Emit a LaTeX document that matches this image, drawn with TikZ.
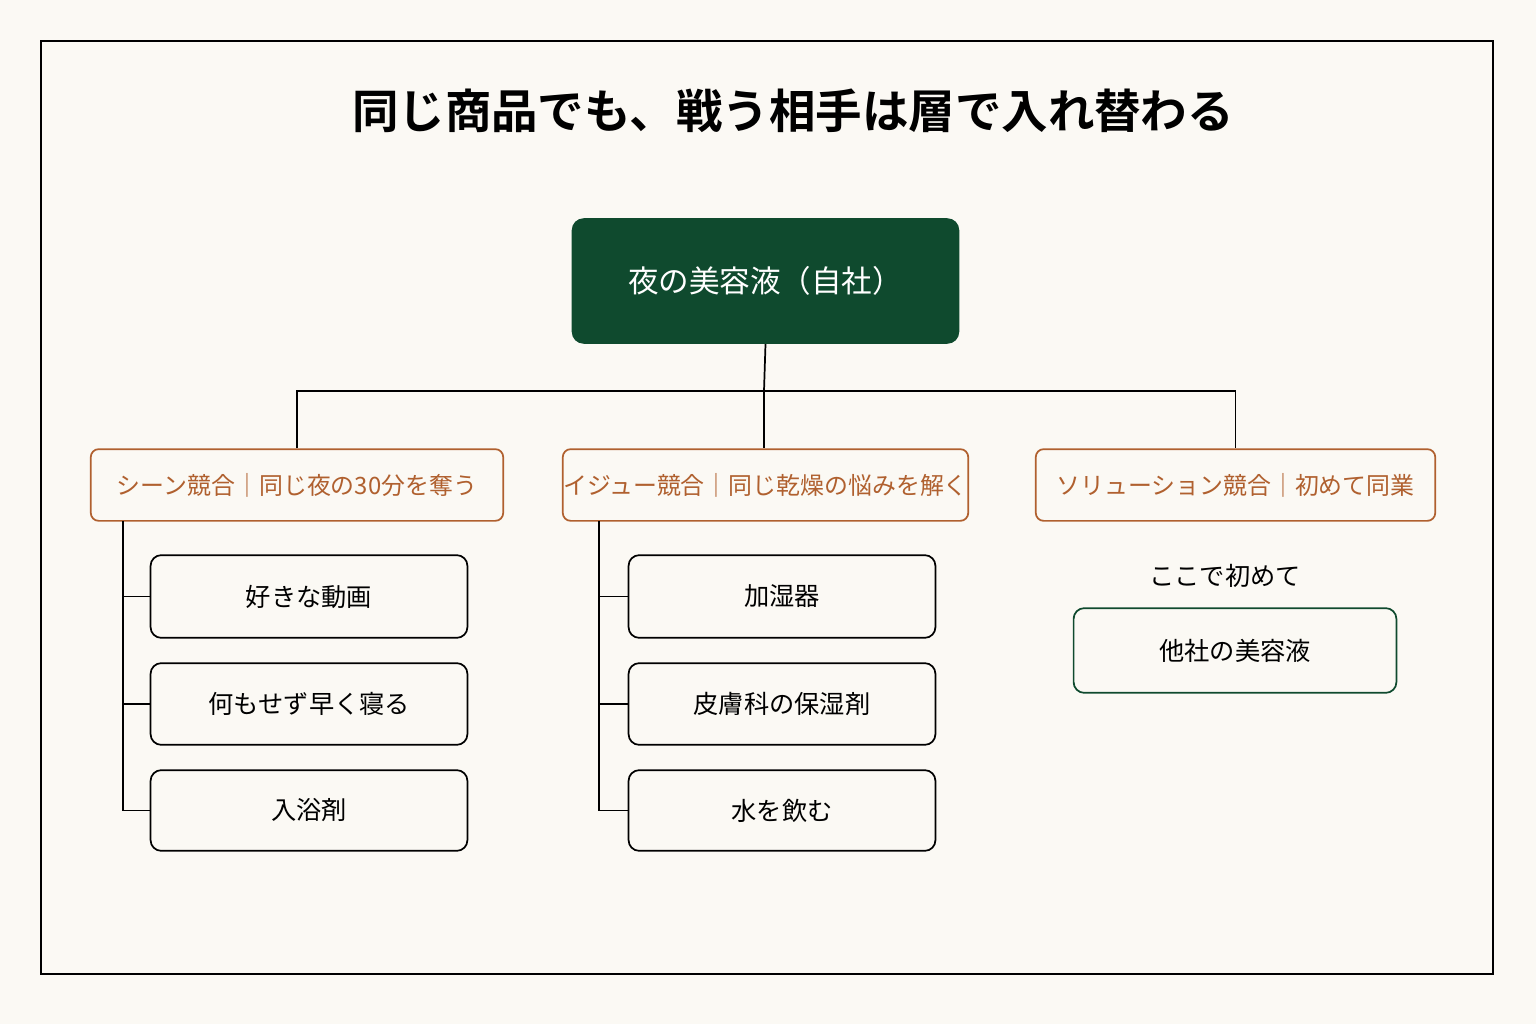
\documentclass[tikz,border=0pt]{standalone}
\usepackage{fontspec}
\setmainfont{Noto Sans CJK JP}
\newfontfamily\titlefont{Noto Sans CJK JP}[UprightFont=* Bold]
\definecolor{bg}{HTML}{FBF9F4}
\definecolor{dgreen}{HTML}{0F4A2E}
\definecolor{rust}{HTML}{B0602F}
\begin{document}
\begin{tikzpicture}[x=0.0264583cm,y=-0.0264583cm,
  cat/.style={draw=rust,line width=1.3pt,rounded corners=6pt,fill=bg,text=rust,font=\fontsize{18}{20}\selectfont,minimum height=72*0.75pt,inner sep=0pt},
  item/.style={draw=black,line width=1.3pt,rounded corners=8pt,fill=bg,font=\fontsize{19}{22}\selectfont,inner sep=0pt},
  conn/.style={line width=1.3pt}]
\fill[bg] (0,0) rectangle (1536,1024);
\useasboundingbox (0,0) rectangle (1536,1024);
\draw[line width=1.3pt] (41,41) rectangle (1493,974);
\node[font=\titlefont\fontsize{35}{40}\selectfont] (title) at (793,111) {同じ商品でも、戦う相手は層で入れ替わる};
\node[fill=dgreen,rounded corners=9pt,minimum width=389*0.75pt,minimum height=126*0.75pt,text=white,font=\fontsize{23}{26}\selectfont,inner sep=0pt] (top) at (765.5,281) {夜の美容液（自社）};
\node[cat,minimum width=414*0.75pt] (c1) at (297,485) {シーン競合｜同じ夜の30分を奪う};
\node[cat,minimum width=407*0.75pt] (c2) at (765.5,485) {イジュー競合｜同じ乾燥の悩みを解く};
\node[cat,minimum width=401*0.75pt] (c3) at (1235.5,485) {ソリューション競合｜初めて同業};
\coordinate (hb) at (764,391);
\draw[conn] (top.south) -- (hb);
\draw[conn] (c1.north) -- (c1.north |- hb) -- (c3.north |- hb) -- (c3.north);
\draw[conn] (hb) -- (c2.north -| hb);
% left items
\node[item,minimum width=318*0.75pt,minimum height=83*0.75pt] (a1) at (309,596.5) {好きな動画};
\node[item,minimum width=318*0.75pt,minimum height=82*0.75pt] (a2) at (309,704) {何もせず早く寝る};
\node[item,minimum width=318*0.75pt,minimum height=81*0.75pt] (a3) at (309,810.5) {入浴剤};
\coordinate (l0) at (123,521);
\draw[conn] (l0) -- (l0 |- a3.west) -- (a3.west);
\draw[conn] (l0 |- a1.west) -- (a1.west);
\draw[conn] (l0 |- a2.west) -- (a2.west);
% middle items
\node[item,minimum width=308*0.75pt,minimum height=83*0.75pt] (b1) at (782,596.5) {加湿器};
\node[item,minimum width=308*0.75pt,minimum height=82*0.75pt] (b2) at (782,704) {皮膚科の保湿剤};
\node[item,minimum width=308*0.75pt,minimum height=81*0.75pt] (b3) at (782,810.5) {水を飲む};
\coordinate (m0) at (599,521);
\draw[conn] (m0) -- (m0 |- b3.west) -- (b3.west);
\draw[conn] (m0 |- b1.west) -- (b1.west);
\draw[conn] (m0 |- b2.west) -- (b2.west);
% right
\node[font=\fontsize{19}{22}\selectfont] (note) at (1225,576) {ここで初めて};
\node[item,draw=dgreen,minimum width=324*0.75pt,minimum height=85*0.75pt] (d1) at (1235,650.5) {他社の美容液};
\end{tikzpicture}
\end{document}
